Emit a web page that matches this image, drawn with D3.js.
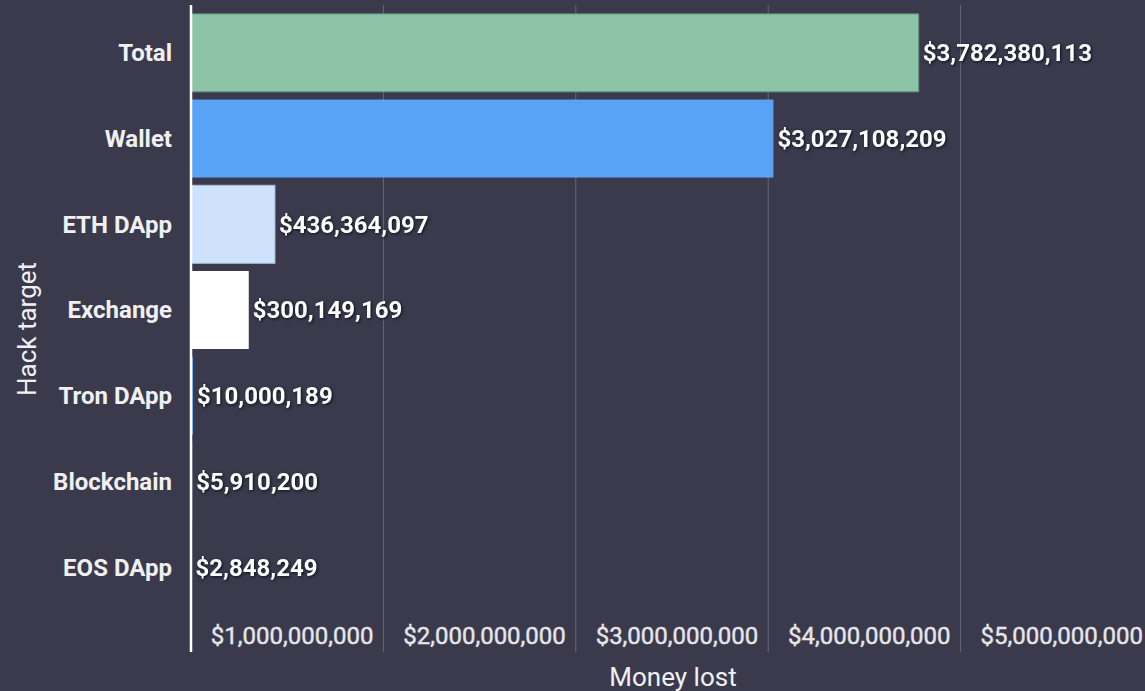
<!DOCTYPE html>
<html>
<head>
<meta charset="utf-8">
<script src="https://cdn.jsdelivr.net/npm/d3@7"></script>
<style>
  body { margin: 0; background: #3b3a4d; }
  svg { display: block; font-family: Roboto, sans-serif; }
  .val { fill: #fff; font-weight: 700; font-size: 24px; filter: drop-shadow(1px 1px 1.5px rgba(10,10,20,0.9)); }
</style>
</head>
<body>
<div id="container"></div>
<script>
/* CONSTANTS AND GLOBALS */
const width = 1145, height = 691;

/* DATA */
const targets = ["Total", "Wallet", "ETH DApp", "Exchange", "Tron DApp", "Blockchain", "EOS DApp"];
const moneyLost = [3782380113, 3027108209, 436364097, 300149169, 10000189, 5910200, 2848249];
const barColors = ["#8dc3a7", "#58a3f5", "#cfe2fb", "#ffffff", "#58a3f5", "#cfe2fb", "#ffffff"];
const xTicks = [1e9, 2e9, 3e9, 4e9, 5e9];

const data = targets.map((t, i) => ({ target: t, value: moneyLost[i], color: barColors[i] }));

// SCALES
const xScale = d3.scaleLinear()
  .domain([0, 5e9])
  .range([191, 1153]);

const yScale = d3.scaleBand()
  .domain(targets)
  .range([10, 610])
  .paddingInner(0.09)
  .paddingOuter(0.045);

const fmt = d => "$" + d3.format(",")(d);

// CREATE SVG ELEMENT
const svg = d3.select("#container")
  .append("svg")
  .attr("width", width)
  .attr("height", height);

svg.append("rect").attr("width", width).attr("height", height).attr("fill", "#3b3a4d");

// GRIDLINES
svg.append("g")
  .selectAll("line")
  .data(xTicks)
  .join("line")
  .attr("x1", d => xScale(d)).attr("x2", d => xScale(d))
  .attr("y1", 5).attr("y2", 652)
  .attr("stroke", "#67667a")
  .attr("stroke-width", 1);

// X TICK LABELS (placed left of gridline)
svg.append("g")
  .selectAll("text")
  .data(xTicks)
  .join("text")
  .attr("x", d => xScale(d) - 10)
  .attr("y", 644)
  .attr("text-anchor", "end")
  .attr("fill", "#e6e6ea")
  .attr("stroke", "#e6e6ea")
  .attr("stroke-width", 0.4)
  .attr("font-size", 24)
  .text(fmt);

// BARS
svg.append("g")
  .selectAll("rect")
  .data(data)
  .join("rect")
  .attr("x", xScale(0))
  .attr("y", d => yScale(d.target))
  .attr("width", d => xScale(d.value) - xScale(0))
  .attr("height", yScale.bandwidth())
  .attr("fill", d => d.color)
  .attr("stroke", (d, i) => i === 0 ? "#5f8d7c" : i === 2 ? "#a9bfd9" : "none")
  .attr("stroke-width", 1);

// Y AXIS LINE
svg.append("line")
  .attr("x1", xScale(0)).attr("x2", xScale(0))
  .attr("y1", 5).attr("y2", 652)
  .attr("stroke", "#ffffff")
  .attr("stroke-width", 2.5);

// CATEGORY LABELS
svg.append("g")
  .selectAll("text")
  .data(targets)
  .join("text")
  .attr("x", 172)
  .attr("y", d => yScale(d) + yScale.bandwidth() / 2)
  .attr("dy", "0.35em")
  .attr("text-anchor", "end")
  .attr("fill", "#f0f0f2")
  .attr("font-size", 24)
  .attr("font-weight", 700)
  .text(d => d);

// VALUE LABELS
svg.append("g")
  .selectAll("text")
  .data(data)
  .join("text")
  .attr("class", "val")
  .attr("x", d => xScale(d.value) + 4)
  .attr("y", d => yScale(d.target) + yScale.bandwidth() / 2)
  .attr("dy", "0.35em")
  .text(d => fmt(d.value));

// AXIS TITLES
svg.append("text")
  .attr("x", 673)
  .attr("y", 686)
  .attr("text-anchor", "middle")
  .attr("fill", "#f0f0f2")
  .attr("font-size", 26)
  .text("Money lost");

svg.append("text")
  .attr("transform", `translate(36, 329) rotate(-90)`)
  .attr("text-anchor", "middle")
  .attr("fill", "#f0f0f2")
  .attr("font-size", 26)
  .text("Hack target");
</script>
</body>
</html>
